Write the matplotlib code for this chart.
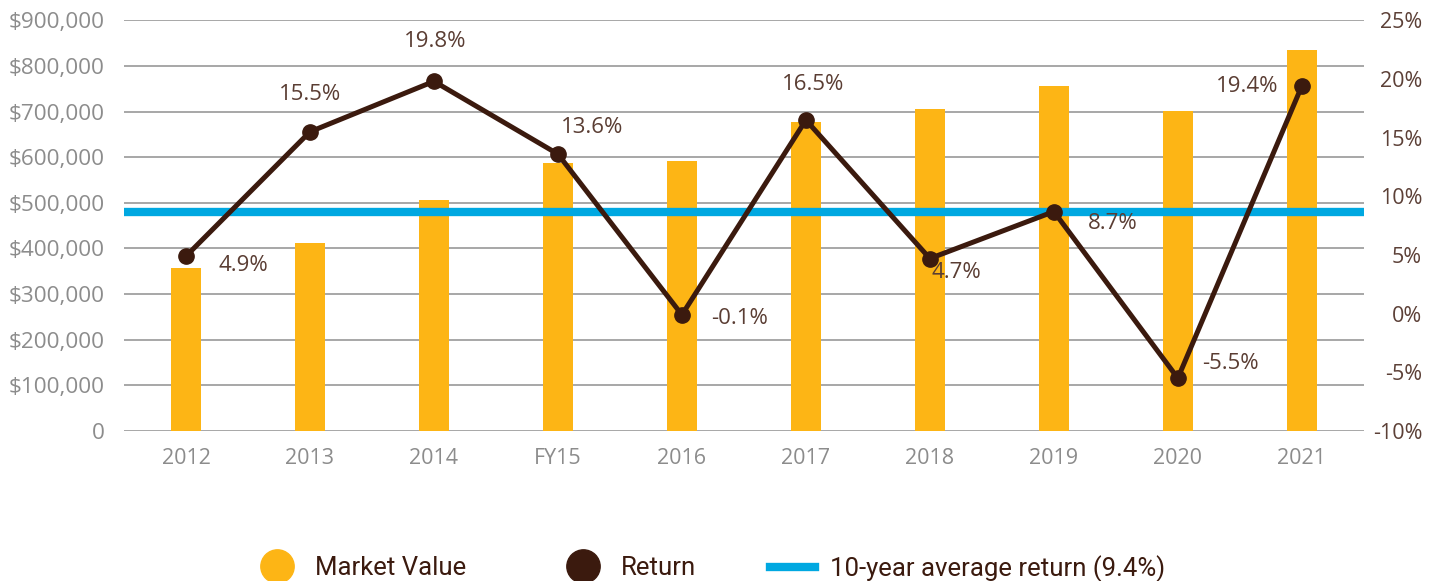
import matplotlib.pyplot as plt
from matplotlib.lines import Line2D

years = ["2012", "2013", "2014", "FY15", "2016", "2017", "2018", "2019", "2020", "2021"]
market_value = [357000, 412000, 506000, 587000, 591000, 677000, 705000, 755000, 701000, 836000]
returns = [4.9, 15.5, 19.8, 13.6, -0.1, 16.5, 4.7, 8.7, -5.5, 19.4]
avg_return = 8.7  # where the line is drawn in the reference (legend says 9.4%)
avg_label = "10-year average return (9.4%)"

# label offsets in pixels (dx, dy) relative to each return point
label_offsets = [(57, -9), (0, 37), (1, 40), (34, 27), (58, -4),
                 (7, 36), (26, -14), (59, -12), (53, 15), (-55, 0)]

GOLD = "#FDB515"
BROWN = "#3B1A0E"
BLUE = "#00A8E1"
LABEL = "#5A3D33"
GRAY = "#8C8C8C"

plt.rcParams['font.family'] = ['Open Sans', 'DejaVu Sans']

fig = plt.figure(figsize=(14.4, 5.81), dpi=100)
ax = fig.add_axes([0.0861, 0.2582, 0.861, 0.7068])
ax2 = ax.twinx()

x = range(len(years))
ax.bar(x, market_value, width=0.24, color=GOLD, zorder=2)
ax.set_xlim(-0.5, len(years) - 0.5)
ax.set_ylim(0, 900000)
ax.set_yticks(range(0, 1000000, 100000))
ax.set_yticklabels(["0"] + ["${:,}".format(v) for v in range(100000, 1000000, 100000)])
ax.set_xticks(list(x))
ax.set_xticklabels(years)
ax.grid(axis='y', color="#A0A0A0", linewidth=1.3)
ax.set_axisbelow(True)
ax.tick_params(axis='y', length=0, pad=14, labelsize=16.2, labelcolor=GRAY)
ax.tick_params(axis='x', length=0, pad=12, labelsize=15.5, labelcolor=GRAY)

ax2.set_ylim(-10, 25)
ax2.set_yticks(range(-10, 30, 5))
ax2.set_yticklabels(["{}%".format(v) for v in range(-10, 30, 5)], ha='right')
ax2.tick_params(axis='y', length=0, pad=42, labelsize=15.5, labelcolor="#5C4037")

for a in (ax, ax2):
    for s in a.spines.values():
        s.set_visible(False)

ax2.axhline(avg_return, xmin=0.003, xmax=0.997, color=BLUE, linewidth=6, zorder=3)
ax2.plot(x, returns, color=BROWN, linewidth=3.6, marker='o', markersize=11, zorder=4)

for i, (r, off) in enumerate(zip(returns, label_offsets)):
    ax2.annotate("{}%".format(r), (i, r), xytext=off, textcoords='offset pixels',
                 ha='center', va='center', fontsize=16, color=LABEL)

# legend, one entry each so the spacing can follow the reference
leg_font = ['Roboto', 'DejaVu Sans']
entries = [
    (Line2D([], [], color=GOLD, marker='o', linestyle='none', markersize=24), "Market Value", 0.1767),
    (Line2D([], [], color=BROWN, marker='o', linestyle='none', markersize=24), "Return", 0.3892),
    (Line2D([], [], color=BLUE, linewidth=6), avg_label, 0.5347),
]
for handle, text, xpos in entries:
    leg = fig.legend([handle], [text], loc='center left', bbox_to_anchor=(xpos, 0.022),
                     frameon=False, borderpad=0, borderaxespad=0, handlelength=1.75,
                     handletextpad=0.6, prop={'family': leg_font, 'size': 18.5})
    for t in leg.get_texts():
        t.set_color(BROWN)

fig.savefig("out.png", dpi=100)
